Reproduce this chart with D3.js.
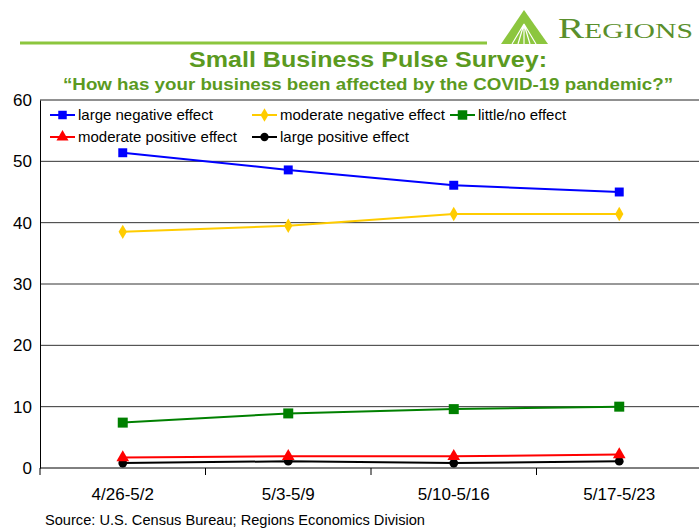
<!DOCTYPE html>
<html><head><meta charset="utf-8">
<script src="https://cdn.jsdelivr.net/npm/d3@7"></script>
<style>body{margin:0;background:#fff}svg{display:block;font-family:"Liberation Sans",Arial,sans-serif}</style>
</head><body><svg id="c" width="699" height="529"></svg>
<script>
const categories = ["4/26-5/2","5/3-5/9","5/10-5/16","5/17-5/23"];
const largeNegative = [51.4, 48.6, 46.1, 45.0];
const moderateNegative = [38.5, 39.5, 41.4, 41.4];
const littleNo = [7.4, 8.9, 9.6, 10.0];
const moderatePositive = [1.7, 1.9, 1.9, 2.2];
const largePositive = [0.8, 1.1, 0.8, 1.1];
const yTicks = [0,10,20,30,40,50,60];

const series = [
  {name:"large negative effect", values:largeNegative, color:"#0000ff", sym:d3.symbolSquare, size:80},
  {name:"moderate negative effect", values:moderateNegative, color:"#ffcc00", sym:d3.symbolDiamond, size:60},
  {name:"little/no effect", values:littleNo, color:"#008000", sym:d3.symbolSquare, size:100},
  {name:"moderate positive effect", values:moderatePositive, color:"#ff0000", sym:d3.symbolTriangle, size:70},
  {name:"large positive effect", values:largePositive, color:"#000000", sym:d3.symbolCircle, size:60}
];

const svg = d3.select("#c");
const L=40, R=702, T=100, B=468;
const x = d3.scaleBand().domain(categories).range([L,R]);
const y = d3.scaleLinear().domain([0,60]).range([B,T]);

// header
svg.append("line").attr("x1",20).attr("x2",487).attr("y1",43).attr("y2",43).attr("stroke","#8cc63e").attr("stroke-width",3);
const logo = svg.append("g");
logo.append("path").attr("d","M524,10 L501,44 L548,44 Z").attr("fill","#8cc63e");
logo.append("path").attr("d","M524,24 L512,44 M524,24 L518,44 M524,24 L524,44 M524,24 L530,44 M524,24 L536,44").attr("stroke","#fff").attr("stroke-width",1.2).attr("fill","none");
const lt = logo.append("text").attr("x",558).attr("y",38).attr("fill","#5a8f2b").attr("font-family","Liberation Serif, serif")
  .attr("textLength",135).attr("lengthAdjust","spacingAndGlyphs");
lt.append("tspan").attr("font-size",29).text("R");
lt.append("tspan").attr("font-size",22).text("EGIONS");

svg.append("text").attr("x",368).attr("y",67).attr("text-anchor","middle").attr("font-weight","bold").attr("font-size",22.3).attr("fill","#5b9a1f")
  .attr("textLength",358).attr("lengthAdjust","spacingAndGlyphs").text("Small Business Pulse Survey:");
svg.append("text").attr("x",368).attr("y",90).attr("text-anchor","middle").attr("font-weight","bold").attr("font-size",16.8).attr("fill","#5b9a1f")
  .attr("textLength",610).attr("lengthAdjust","spacingAndGlyphs").text("\u201cHow has your business been affected by the COVID-19 pandemic?\u201d");

// grid
svg.append("g").selectAll("line").data(yTicks.filter(d=>d>0)).join("line")
  .attr("x1",L).attr("x2",699).attr("y1",d=>y(d)).attr("y2",d=>y(d))
  .attr("stroke",d=>d===60?"#222":"#333").attr("stroke-width",1);

// y axis
const ya = svg.append("g").attr("transform",`translate(${L},0)`).call(d3.axisLeft(y).tickValues(yTicks).tickSize(0).tickPadding(8));
ya.select(".domain").attr("stroke","#000");
ya.selectAll("text").attr("font-size",17).attr("fill","#000").attr("font-family","Liberation Sans, Arial, sans-serif");

// x axis
const xa = svg.append("g").attr("transform",`translate(0,${B})`).call(d3.axisBottom(x).tickSize(0).tickPadding(20));
xa.select(".domain").attr("d",`M${L},0H699`).attr("stroke","#000");
xa.selectAll("text").attr("font-size",17).attr("fill","#000").attr("font-family","Liberation Sans, Arial, sans-serif");
svg.append("g").selectAll("line").data(categories.slice(1).concat(["end"])).join("line")
  .attr("x1",(d,i)=>L+x.bandwidth()*(i+1)).attr("x2",(d,i)=>L+x.bandwidth()*(i+1))
  .attr("y1",B).attr("y2",B+7).attr("stroke","#000");
svg.append("line").attr("x1",L).attr("x2",L).attr("y1",B).attr("y2",B+7).attr("stroke","#000");

// series
const cx = c => x(c)+x.bandwidth()/2;
const line = d3.line().x((d,i)=>cx(categories[i])).y(d=>y(d));
const order = [4,3,2,1,0];
order.forEach(k=>{
  const s = series[k];
  const g = svg.append("g");
  g.append("path").attr("d",line(s.values)).attr("fill","none").attr("stroke",s.color).attr("stroke-width",2);
  g.selectAll("path.m").data(s.values).join("path").attr("class","m")
    .attr("transform",(d,i)=>`translate(${cx(categories[i])},${y(d)})`)
    .attr("d",d3.symbol().type(s.sym).size(s.size)).attr("fill",s.color);
});

// legend
const legPos = [[50,115],[252,115],[450,115],[50,137],[252,137]];
series.forEach((s,i)=>{
  const [lx,ly]=legPos[i];
  const g = svg.append("g").attr("transform",`translate(${lx},${ly})`);
  g.append("line").attr("x1",0).attr("x2",25).attr("stroke",s.color).attr("stroke-width",2);
  g.append("path").attr("transform","translate(12.5,0)").attr("d",d3.symbol().type(s.sym).size(s.size*0.9)).attr("fill",s.color);
  g.append("text").attr("x",28).attr("y",5).attr("font-size",15).attr("fill","#000").text(s.name);
});

svg.append("text").attr("x",45).attr("y",525).attr("font-size",14).attr("fill","#000")
  .attr("textLength",380).attr("lengthAdjust","spacingAndGlyphs").text("Source: U.S. Census Bureau; Regions Economics Division");
</script></body></html>
